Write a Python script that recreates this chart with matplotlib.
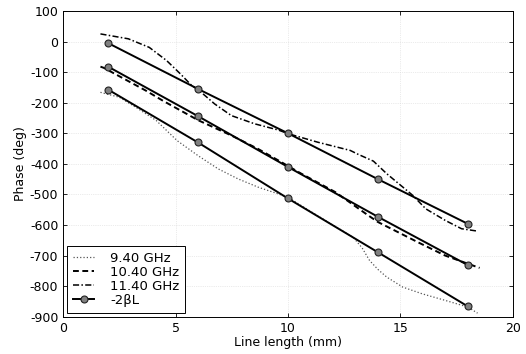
import matplotlib.pyplot as plt
import numpy as np

plt.rcParams['axes.unicode_minus'] = False
plt.rcParams['font.family'] = 'DejaVu Sans'

# -2*beta*L reference values at the marker positions
beta_x = [2, 6, 10, 14, 18]
beta_hi = [-5, -155, -300, -450, -596]
beta_mid = [-82, -244, -410, -573, -731]
beta_lo = [-157, -330, -513, -689, -866]

# measured phase curves
x_940 = [1.66, 2.5, 3.3, 4.14, 5.07, 6.0, 6.89, 7.78, 8.67, 9.56, 10.0, 11.0, 12.0, 12.9, 13.3,
         13.63, 14.0, 14.39, 15.11, 15.98, 16.98, 18.0, 18.43]
y_940 = [-166, -182, -218, -258, -324, -373, -416, -449, -476, -498, -509, -555, -600, -640, -675,
         -716, -745, -770, -803, -825, -846, -868, -888]

x_1040 = [1.66, 1.81, 3.67, 4.45, 6.0, 7.48, 8.67, 9.7, 10.57, 12.1, 13.56, 14.0, 15.83, 17.0, 18.52]
y_1040 = [-82, -86, -160, -194, -257, -307, -351, -394, -431, -492, -568, -590, -658, -700, -740]

x_1140 = [1.66, 2.9, 3.83, 4.6, 5.22, 5.72, 6.0, 6.74, 7.48, 8.52, 9.56, 10.0, 11.32, 12.77, 13.1,
          13.8, 14.39, 15.11, 15.55, 16.13, 17.0, 17.72, 18.45]
y_1140 = [25, 9, -19, -62, -106, -144, -157, -204, -242, -269, -289, -301, -329, -356, -368,
          -391, -432, -476, -503, -547, -585, -612, -620]

fig = plt.figure(figsize=(5.26, 3.54), dpi=100)
ax = fig.add_axes([0.12, 0.105, 0.855, 0.864])

ax.plot(x_940, y_940, ':', color='#555555', lw=0.9, label='9.40 GHz')
ax.plot(x_1040, y_1040, '--', color='black', lw=1.4, dashes=(3, 1.8), label='10.40 GHz')
ax.plot(x_1140, y_1140, '-.', color='black', lw=1.1, dashes=(4, 1.5, 1, 1.5), label='11.40 GHz')

mk = dict(color='black', lw=1.4, marker='o', ms=5, mfc='#808080', mec='#222222', mew=0.8)
ax.plot(beta_x, beta_hi, label='-2\u03b2L', **mk)
ax.plot(beta_x, beta_mid, **mk)
ax.plot(beta_x, beta_lo, **mk)

ax.set_xlim(0, 20)
ax.set_ylim(-900, 100)
ax.set_xticks([0, 5, 10, 15, 20])
ax.set_yticks(np.arange(-900, 101, 100))
ax.tick_params(direction='in', top=True, right=True, labelsize=9, length=3, width=0.6)
ax.grid(True, ls=':', color='#d8d8d8', lw=0.5)
for s in ax.spines.values():
    s.set_linewidth(0.7)

ax.set_xlabel('Line length (mm)', fontsize=9, labelpad=1)
ax.set_ylabel('Phase (deg)', fontsize=9, labelpad=2)

leg = ax.legend(loc='lower left', fontsize=9.5, fancybox=False, edgecolor='black',
                framealpha=1, handlelength=1.6, labelspacing=0.08, borderpad=0.45,
                borderaxespad=0.3, handletextpad=1.2)
leg.get_frame().set_linewidth(0.7)

fig.savefig('out.png', dpi=100)
